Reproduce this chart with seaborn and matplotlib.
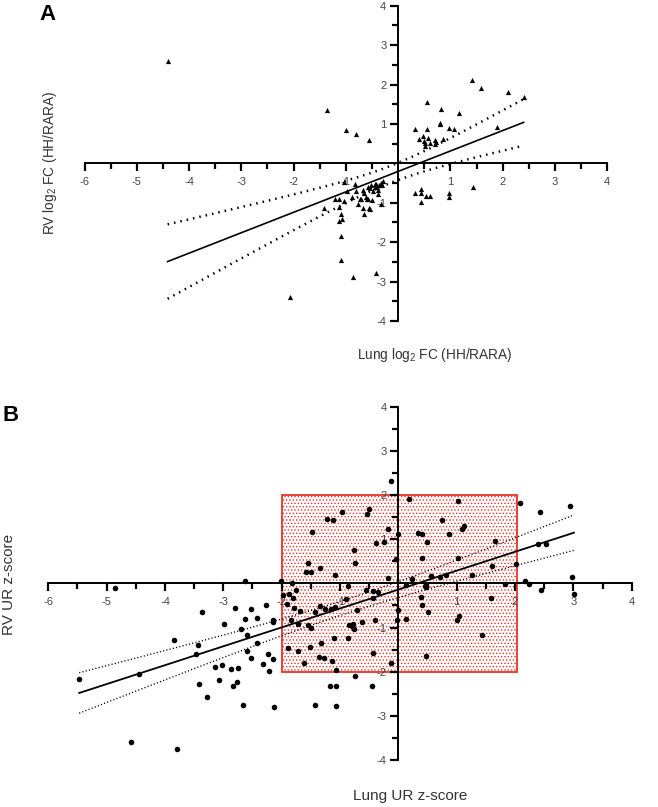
import numpy as np
import pandas as pd
import matplotlib
matplotlib.use("Agg")
import matplotlib.pyplot as plt
from matplotlib.patches import Rectangle
from matplotlib.ticker import FixedLocator
import seaborn as sns

# Panel A: lung vs RV log2 fold change (HH/RARA)
a_lung = [-4.41, -1.36, -0.99, -0.80, -0.55,
          1.41, 1.59, 2.11, 2.40, 1.89, 0.55, 0.82, 1.17, 0.80, 0.80, 0.97, 1.06, 0.33, 0.56,
          0.39, 0.48, 0.57, 0.50, 0.51, 0.61, 0.51, 0.71, 0.73, 0.70, 0.85,
          0.33, 0.43, 0.43, 0.53, 0.61, 0.43, 0.97, 0.98, 1.43,
          -2.06, -1.04, -0.82, -0.97, -1.20, -1.13, -1.03, -1.41, -1.13, -1.10, -1.08, -1.14,
          -1.09, -1.09, -0.87, -0.43, -0.76, -0.68, -0.65, -0.73, -0.55, -0.53, -0.50, -0.32,
          -0.68, -0.65, -0.62, -0.60, -0.57, -0.57, -0.53, -0.48, -0.45, -0.43, -0.40, -0.38,
          -0.39, -0.36, -0.33, -0.31, -0.29, -0.52, -0.45, -0.89, -0.81, -0.72]
a_rv = [2.60, 1.35, 0.84, 0.75, 0.60,
        2.11, 1.92, 1.81, 1.68, 0.93, 1.55, 1.38, 1.27, 1.03, 1.00, 0.90, 0.87, 0.86, 0.86,
        0.63, 0.69, 0.65, 0.57, 0.52, 0.52, 0.45, 0.60, 0.55, 0.50, 0.63,
        -0.76, -0.66, -0.75, -0.82, -0.84, -0.98, -0.74, -0.86, -0.60,
        -3.39, -0.48, -0.52, -0.71, -0.90, -0.90, -0.95, -1.13, -1.11, -1.29, -1.40, -1.47,
        -1.84, -2.45, -2.88, -2.79, -1.02, -1.14, -1.28, -0.91, -1.13, -1.15, -0.93, -1.03,
        -0.68, -0.76, -0.85, -0.91, -0.91, -0.59, -0.62, -0.69, -0.59, -0.53, -0.61, -0.68,
        -0.79, -0.54, -0.50, -0.54, -0.46, -0.55, -0.53, -0.85, -0.69, -0.90]

# Panel B: lung vs RV upstream regulator z-scores
b_lung = [-5.47, -4.85, -4.45, -4.58, -3.79, -3.85, -3.37, -3.43, -3.46, -3.41, -3.28, -3.14,
          -3.02, -3.08, -2.98, -2.86, -2.75, -2.83, -2.76, -2.80, -2.70, -2.66, -2.62, -2.62,
          -2.60, -2.59, -2.53, -2.53, -2.43, -2.42, -2.32, -2.27, -2.23, -2.22, -2.14, -2.14,
          -2.14, -2.13,
          -2.01, -1.83, -1.98, -1.87, -1.80, -1.75, -1.90, -1.78, -1.69, -1.84, -1.72, -1.54,
          -1.50, -1.43, -1.34, -1.26, -1.15, -1.08, -0.89, -0.71, -0.84, -0.80, -0.78, -0.76,
          -0.62, -0.56, -0.43, -0.35, -0.44, -0.40, -0.02, -0.005, -0.12, -0.43, -0.86, -1.11,
          -1.32, -1.51, -1.72, -1.89, -1.62, -1.36, -1.28, -1.13, -1.06,
          -0.96, -1.22, -1.12, -1.48, -0.54, -0.50, -0.76, -0.75, -0.38, -0.25, -0.18, 0.0,
          -0.04, -0.17, -1.54, -1.58, -1.50, -1.34, -1.08, -0.87, -0.13,
          -0.74, -1.17, -1.06, -0.45, -1.42, -1.06,
          0.19, 1.03, 2.08, 2.43, 2.95, 0.74, 1.12, 1.09, 0.87, 0.34, 0.40, 0.49, 1.65, 0.40,
          1.02, 2.40, 2.53, 1.61, 2.01, 1.27, 0.81, 0.71, 0.56, 0.23, 0.13, 0.45, 0.47, 1.83,
          2.17, 2.24, 2.45, 2.97, 3.01, 0.39, 0.41, 1.58, 0.51, 0.13, 1.04, 1.01, 1.44, 0.48]
b_rv = [-2.17, -0.11, -2.06, -3.59, -3.75, -1.28, -0.65, -1.40, -1.60, -2.27, -2.58, -1.90,
        -1.86, -2.18, -0.91, -1.95, -1.92, -2.32, -2.23, -0.55, -1.04, -2.76, 0.05, -0.80,
        -1.16, -1.54, -1.69, -0.57, -0.78, -1.35, -1.82, -0.50, -1.60, -1.98, -1.71, -0.83,
        -0.88, -2.79,
        0.05, 0.01, -0.27, -0.25, -0.33, -0.15, -0.47, -0.55, -0.63, -0.82, -0.91, -0.95,
        -1.02, -0.66, -0.51, -0.57, -0.59, -0.54, -0.35, -0.61, -0.94, -0.97, -0.92, -1.03,
        -0.87, -0.14, -0.17, -0.20, -0.33, -0.82, -0.83, -0.60, -1.80, -1.57, -1.23, -1.23,
        -1.34, -1.45, -1.53, -1.46, -1.80, -1.66, -1.68, -1.76, -1.96,
        1.61, 1.46, 1.44, 1.17, 1.57, 1.68, 0.75, 0.45, 0.91, 0.93, 1.22, 1.12,
        0.55, 0.13, 0.45, 0.26, 0.26, 0.35, 0.19, -0.05, 2.31,
        -2.10, -2.32, -2.32, -2.32, -2.75, -2.77,
        1.91, 1.87, 1.82, 1.62, 1.76, 1.44, 1.29, 1.24, 1.11, 1.13, 1.11, 0.93, 0.95, 0.57,
        0.57, 0.88, 0.90, 0.40, 0.44, 0.20, 0.20, 0.14, 0.16, 0.10, -0.03, -0.05, -0.08, -0.01,
        0.06, -0.02, -0.15, 0.14, -0.25, -0.32, -0.49, -0.34, -0.65, -0.81, -0.75, -0.83, -1.18, -1.64]

# highlighted |z| < 2 window in panel B
box_x = [-2.0, 2.04]
box_y = [-2.0, 2.0]

x_major = [-6, -5, -4, -3, -2, -1, 1, 2, 3, 4]
y_major = [-4, -3, -2, -1, 1, 2, 3, 4]
x_minor = [-5.5, -4.5, -3.5, -2.5, -1.5, -0.5, 0.5, 1.5, 2.5, 3.5]
y_minor = [-3.5, -2.5, -1.5, -0.5, 0.5, 1.5, 2.5, 3.5]


def fit_with_ci(x, y, t=1.98):
    x = np.asarray(x)
    y = np.asarray(y)
    slope, icpt = np.polyfit(x, y, 1)
    xs = np.linspace(x.min(), x.max(), 100)
    ys = icpt + slope * xs
    resid = y - (icpt + slope * x)
    s = np.sqrt((resid ** 2).sum() / (len(x) - 2))
    sxx = ((x - x.mean()) ** 2).sum()
    half = t * s * np.sqrt(1.0 / len(x) + (xs - x.mean()) ** 2 / sxx)
    return xs, ys, ys - half, ys + half


def style_axes(ax):
    ax.set_xlim(-6, 4)
    ax.set_ylim(-4, 4)
    ax.set_xlabel("")
    ax.set_ylabel("")
    ax.spines["top"].set_visible(False)
    ax.spines["right"].set_visible(False)
    ax.spines["bottom"].set_position("zero")
    ax.spines["left"].set_position("zero")
    ax.spines["bottom"].set_linewidth(1.4)
    ax.spines["left"].set_linewidth(1.4)
    ax.xaxis.set_major_locator(FixedLocator(x_major))
    ax.yaxis.set_major_locator(FixedLocator(y_major))
    ax.xaxis.set_minor_locator(FixedLocator(x_minor))
    ax.yaxis.set_minor_locator(FixedLocator(y_minor))
    ax.tick_params(which="major", length=6, width=1.6, color="black", direction="out",
                   labelsize=8, labelcolor="#444444", zorder=10)
    ax.tick_params(which="minor", length=4.5, width=1.6, color="black", direction="out",
                   zorder=10)
    ax.tick_params(axis="x", which="major", pad=4)
    ax.tick_params(axis="y", which="major", pad=2.5)


plt.rcParams.update({
    "font.family": ["Liberation Sans", "DejaVu Sans"],
    "mathtext.default": "regular",
    "axes.unicode_minus": False,
    "hatch.linewidth": 0.6,
})

fig = plt.figure(figsize=(6.58, 8.07), dpi=100)
W, H = 658.0, 807.0

# ---- Panel A
axA = fig.add_axes([84.5 / W, 1 - 321 / H, 522.8 / W, 315.3 / H])
dfA = pd.DataFrame({"lung": a_lung, "rv": a_rv})
sns.scatterplot(data=dfA, x="lung", y="rv", ax=axA, marker="^", s=14,
                color="black", edgecolor="black", linewidth=0, zorder=3)
xs, ys, lo, hi = fit_with_ci(a_lung, a_rv)
axA.plot(xs, ys, color="black", lw=1.2, zorder=4)
axA.plot(xs, lo, color="black", lw=1.8, ls=(0, (0.6, 2.0)), zorder=4)
axA.plot(xs, hi, color="black", lw=1.8, ls=(0, (0.6, 2.0)), zorder=4)
style_axes(axA)

# ---- Panel B
axB = fig.add_axes([48.3 / W, 1 - 760 / H, 583.4 / W, 353.3 / H])
axB.add_patch(Rectangle((box_x[0], box_y[0]), box_x[1] - box_x[0], box_y[1] - box_y[0],
                        facecolor="white", edgecolor="#e8332b", lw=1.3,
                        hatch=".....", zorder=0.5))
dfB = pd.DataFrame({"lung": b_lung, "rv": b_rv})
sns.scatterplot(data=dfB, x="lung", y="rv", ax=axB, marker="o", s=16,
                color="black", edgecolor="black", linewidth=0, zorder=3)
xs, ys, lo, hi = fit_with_ci(b_lung, b_rv)
axB.plot(xs, ys, color="black", lw=1.3, zorder=4)
axB.plot(xs, lo, color="black", lw=1.0, ls=(0, (0.8, 1.6)), zorder=4)
axB.plot(xs, hi, color="black", lw=1.0, ls=(0, (0.8, 1.6)), zorder=4)
style_axes(axB)

# labels
txt = "#333333"
fig.text(39 / W, 1 - 15 / H, "A", fontsize=16, fontweight="bold", va="center", ha="left")
fig.text(3 / W, 1 - 416 / H, "B", fontsize=16, fontweight="bold", va="center", ha="left")
fig.text(435 / W, 1 - 355 / H, "Lung log$_2$ FC (HH/RARA)", fontsize=9.8,
         color=txt, ha="center", va="center")
fig.text(50 / W, 1 - 163 / H, "RV log$_2$ FC (HH/RARA)", fontsize=9.8,
         color=txt, ha="center", va="center", rotation=90)
fig.text(410 / W, 1 - 796 / H, "Lung UR z-score", fontsize=11,
         color=txt, ha="center", va="center")
fig.text(9 / W, 1 - 584 / H, "RV UR z-score", fontsize=11,
         color=txt, ha="center", va="center", rotation=90)

fig.savefig("out.png", dpi=100)
